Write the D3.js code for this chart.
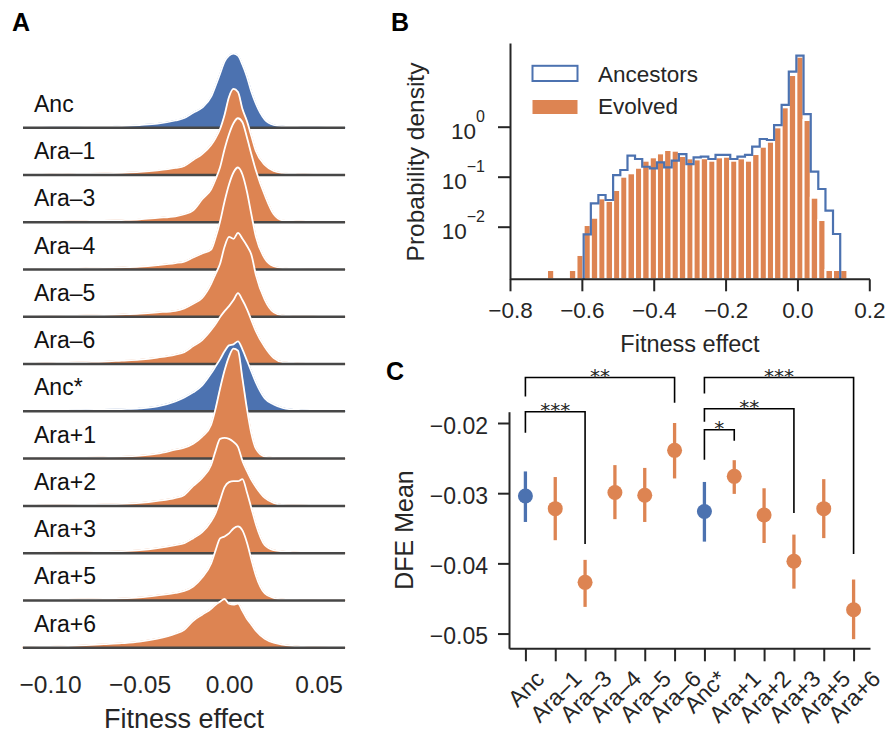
<!DOCTYPE html>
<html>
<head>
<meta charset="utf-8">
<script src="https://cdn.jsdelivr.net/npm/d3@7"></script>
<style>
  body { margin: 0; background: #fff; }
  svg { display: block; }
</style>
</head>
<body>
<svg id="fig" width="886" height="734"></svg>
<script>
// ---- data ----
const lineLabels = ['Anc', 'Ara–1', 'Ara–3', 'Ara–4', 'Ara–5', 'Ara–6',
  'Anc*', 'Ara+1', 'Ara+2', 'Ara+3', 'Ara+5', 'Ara+6'];

// panel A: smoothed DFE density per line, read at these fitness values
const ridgeGrid = [-0.115, -0.10, -0.09, -0.08, -0.07, -0.06, -0.05, -0.04, -0.03, -0.025,
  -0.02, -0.015, -0.01, -0.0075, -0.005, -0.0025, 0, 0.0025, 0.005, 0.0075,
  0.01, 0.0125, 0.015, 0.02, 0.025, 0.03, 0.04, 0.05, 0.065];
const densAnc = [0, 0.3, 0.6, 0.7, 1.0, 1.7, 2.7, 4, 7.2, 9.7, 15, 20, 31, 42, 54, 66, 72, 74, 72, 63, 51, 36, 24, 8, 2.7, 1.4, 0.6, 0.3, 0];
const densAraM1 = [0, 0.5, 0.8, 1.2, 1.6, 2.2, 3, 4.5, 7, 9, 15, 21, 30, 37, 46, 60, 78, 86, 83, 66, 54, 39, 24, 10, 4, 2, 0.8, 0.4, 0];
const densAraM3 = [0, 0.5, 0.8, 1.2, 1.6, 2.2, 3, 4.5, 6, 8, 12, 23, 33, 43, 55, 73, 88, 99, 104, 100, 85, 68, 52, 27, 8, 2, 0.8, 0.4, 0];
const densAraM4 = [0, 0.5, 0.8, 1.2, 1.6, 2.2, 3, 4.5, 6.5, 8, 12, 16, 20, 32, 48, 68, 85, 97, 102, 95, 78, 55, 33, 11, 3.3, 1.5, 0.6, 0.3, 0];
const densAraM5 = [0, 0.6, 1, 1.4, 1.8, 2.5, 3.3, 4.5, 6, 8.5, 13, 19, 33, 43, 53, 70, 80, 78, 84, 78, 71, 62, 42, 17, 4.5, 1.5, 0.6, 0.3, 0];
const densAraM6 = [0, 1, 1.5, 2, 2.5, 3.5, 4.5, 6.5, 9.5, 12, 18, 24, 34, 40, 47, 53, 58, 64, 71, 64, 55, 44, 33, 17, 6, 2, 0.8, 0.4, 0];
const densAncStar = [0, 0.5, 0.8, 1.2, 1.7, 2.3, 3, 5, 10, 14, 19, 26, 38, 45, 52, 60, 66, 67, 70, 62, 51, 40, 29, 13, 7, 3.5, 1.2, 0.5, 0];
const densAraP1 = [0, 0.5, 0.8, 1.1, 1.5, 2, 3, 5, 9, 11, 15, 22, 34, 50, 70, 88, 102, 110, 108, 80, 50, 25, 10, 2, 0.8, 0.4, 0.2, 0.1, 0];
const densAraP2 = [0, 0.5, 0.8, 1.1, 1.5, 2, 3, 5, 8, 11, 20, 28, 41, 55, 67, 68, 67, 64, 59, 45, 35, 26, 19, 8, 3, 1, 0.5, 0.2, 0];
const densAraP3 = [0, 0.5, 0.8, 1.1, 1.5, 2, 3, 5, 8, 10, 15, 21, 32, 40, 53, 66, 71, 72, 72, 74, 61, 45, 29, 8, 3, 1.7, 0.6, 0.3, 0];
const densAraP5 = [0, 0.5, 0.8, 1.1, 1.5, 2, 3, 5, 7.5, 9.5, 14, 23, 37, 50, 62, 64, 67, 72, 74, 70, 58, 41, 25, 7, 2.5, 1, 0.4, 0.2, 0];
const densAraP6 = [0.3, 1, 1.7, 2.5, 3.5, 4.5, 6, 9, 14, 18, 27, 33, 39, 43, 46, 48.7, 44, 43, 44, 37, 29, 23, 17, 9, 5, 3, 1, 0.3, 0];
const ridgeRows = [densAnc, densAraM1, densAraM3, densAraM4, densAraM5, densAraM6,
  densAncStar, densAraP1, densAraP2, densAraP3, densAraP5, densAraP6];
const ridgeTicks = [-0.10, -0.05, 0.00, 0.05];

// panel B: histogram (shared bin edges)
const histEdges = [-0.697, -0.677, -0.656, -0.636, -0.615, -0.595, -0.575, -0.554, -0.534, -0.513,
  -0.493, -0.473, -0.452, -0.432, -0.411, -0.391, -0.371, -0.350, -0.330, -0.309,
  -0.289, -0.269, -0.248, -0.228, -0.207, -0.187, -0.167, -0.146, -0.126, -0.105,
  -0.085, -0.065, -0.044, -0.024, -0.003, 0.017, 0.037, 0.058, 0.078, 0.099, 0.119, 0.139];
const evolvedDensity = [0.00136, 0, 0, 0.00136, 0.00272, 0.0108, 0.0151, 0.0369, 0.0327, 0.0542,
  0.100, 0.117, 0.151, 0.209, 0.244, 0.293, 0.342, 0.331, 0.259, 0.233,
  0.222, 0.234, 0.209, 0.244, 0.251, 0.209, 0.233, 0.209, 0.284, 0.398,
  0.501, 0.97, 2.44, 10.8, 25.1, 1.36, 0.038, 0.0136, 0.00136, 0.00136, 0.00136];
const ancestorDensity = [null, null, null, null, null, 0.00703, 0.0293, 0.0431, 0.0342, 0.108,
  0.136, 0.263, 0.226, 0.158, 0.147, 0.194, 0.154, 0.209, 0.284, 0.179,
  0.243, 0.251, 0.226, 0.272, 0.272, 0.226, 0.251, 0.272, 0.398, 0.568,
  0.542, 1.08, 2.72, 12.6, 26.3, 1.79, 0.126, 0.0568, 0.0209, 0.00714, null];
const histXTicks = [-0.8, -0.6, -0.4, -0.2, 0.0, 0.2];
const histYTicks = [1, 0.1, 0.01];

// panel C: DFE mean with interval
const dfeMean = [-0.0304, -0.0322, -0.0427, -0.0299, -0.0303, -0.0239, -0.0326, -0.0276, -0.0331, -0.0397, -0.0322, -0.0466];
const dfeLow = [-0.0341, -0.0367, -0.0462, -0.0337, -0.0341, -0.0279, -0.0369, -0.0301, -0.0371, -0.0436, -0.0364, -0.0508];
const dfeHigh = [-0.0269, -0.0277, -0.0395, -0.0260, -0.0264, -0.0200, -0.0284, -0.0253, -0.0293, -0.0359, -0.0280, -0.0423];
const dfeTicks = [-0.02, -0.03, -0.04, -0.05];
const sigBrackets = [
  { a: 'Anc', b: 'Ara–6', top: -0.01352, endA: -0.01624, endB: -0.01710, stars: '**' },
  { a: 'Anc', b: 'Ara–3', top: -0.01839, endA: -0.02139, endB: -0.03724, stars: '***' },
  { a: 'Anc*', b: 'Ara+6', top: -0.01352, endA: -0.01581, endB: -0.03867, stars: '***' },
  { a: 'Anc*', b: 'Ara+3', top: -0.01796, endA: -0.01981, endB: -0.03281, stars: '**' },
  { a: 'Anc*', b: 'Ara+1', top: -0.02096, endA: -0.02524, endB: -0.02253, stars: '*' },
];

// ---- style ----
const FONT = '"Liberation Sans", Arial, Helvetica, sans-serif';
const INK = '#262626';
const BLUE = '#4c72b0';
const ORANGE = '#dd8452';
const color = (lab) => (lab.startsWith('Anc') ? BLUE : ORANGE);

const svg = d3.select('#fig').attr('font-family', FONT);
svg.append('rect').attr('width', 886).attr('height', 734).attr('fill', '#fff');

const panelLetter = (t, x, y) => svg.append('text')
  .attr('x', x).attr('y', y)
  .attr('font-size', 25).attr('font-weight', 'bold').attr('fill', '#000')
  .text(t);

// ================= panel A: ridgeline =================
const ridgeX = d3.scaleLinear().domain([-0.1151, 0.0648]).range([23, 345]);
const rowY = d3.scalePoint().domain(lineLabels).range([127.7, 647.7]);
const ridgeH = d3.scaleLinear().domain([0, 100]).range([0, 100]);

const pA = svg.append('g');
lineLabels.forEach((lab, i) => {
  const base = rowY(lab);
  const pts = ridgeGrid.map((x, j) => [x, ridgeRows[i][j]]);
  const area = d3.area()
    .x((d) => ridgeX(d[0]))
    .y0(base)
    .y1((d) => base - ridgeH(d[1]))
    .curve(d3.curveMonotoneX);
  const edge = d3.line()
    .x((d) => ridgeX(d[0]))
    .y((d) => base - ridgeH(d[1]))
    .curve(d3.curveMonotoneX);
  const row = pA.append('g');
  row.append('path')
    .attr('d', area(pts))
    .attr('fill', color(lab))
    .attr('stroke', color(lab))
    .attr('stroke-width', 1.2);
  row.append('path')
    .attr('d', edge(pts))
    .attr('fill', 'none')
    .attr('stroke', '#fff')
    .attr('stroke-width', 1.8);
  row.append('line')
    .attr('x1', ridgeX.range()[0]).attr('x2', ridgeX.range()[1])
    .attr('y1', base).attr('y2', base)
    .attr('stroke', '#474747').attr('stroke-width', 2.5);
  row.append('text')
    .attr('x', 34).attr('y', base - 16)
    .attr('font-size', 23).attr('fill', '#111')
    .text(lab);
});

const gAx = svg.append('g')
  .attr('transform', `translate(0,${rowY.range()[1]})`)
  .call(d3.axisBottom(ridgeX).tickValues(ridgeTicks).tickFormat(d3.format('.2f')).tickSize(0))
  .attr('font-family', FONT).attr('font-size', 24.5).attr('color', INK);
gAx.select('.domain').remove();
gAx.selectAll('.tick text').attr('dy', null).attr('y', 45);

svg.append('text')
  .attr('x', 184).attr('y', 728)
  .attr('text-anchor', 'middle').attr('font-size', 27).attr('fill', INK)
  .text('Fitness effect');

panelLetter('A', 12, 31);

// ================= panel B: histogram =================
const hx = d3.scaleLinear().domain([-0.8, 0.2]).range([510, 869.3]);
const hy = d3.scaleLog().domain([10 ** -3.052, 10 ** 1.674]).range([279.3, 43]);
const floorY = hy.range()[0];

const pB = svg.append('g');
pB.selectAll('rect.bar')
  .data(evolvedDensity.map((v, k) => ({ x0: histEdges[k], x1: histEdges[k + 1], v })).filter((d) => d.v > 0))
  .join('rect')
  .attr('class', 'bar')
  .attr('x', (d) => hx(d.x0))
  .attr('width', (d) => hx(d.x1) - hx(d.x0))
  .attr('y', (d) => hy(d.v))
  .attr('height', (d) => floorY - hy(d.v))
  .attr('fill', ORANGE)
  .attr('stroke', '#fff')
  .attr('stroke-width', 2);

const stepPts = [];
ancestorDensity.forEach((v, k) => {
  if (v == null) return;
  if (!stepPts.length) stepPts.push([histEdges[k], null]);
  stepPts.push([histEdges[k], v], [histEdges[k + 1], v]);
  if (ancestorDensity[k + 1] == null) stepPts.push([histEdges[k + 1], null]);
});
pB.append('path')
  .attr('d', d3.line()
    .x((d) => hx(d[0]))
    .y((d) => (d[1] == null ? floorY : hy(d[1])))(stepPts))
  .attr('fill', 'none')
  .attr('stroke', BLUE)
  .attr('stroke-width', 2.2);

const gBx = svg.append('g')
  .attr('transform', `translate(0,${floorY})`)
  .call(d3.axisBottom(hx).tickValues(histXTicks).tickFormat(d3.format('.1f')).tickSize(12).tickSizeOuter(0))
  .attr('font-family', FONT).attr('font-size', 22.5).attr('color', INK);
gBx.select('.domain').attr('stroke-width', 2).attr('d', `M${hx.range()[0]},0H870`);
gBx.selectAll('.tick line').attr('stroke-width', 2);
gBx.selectAll('.tick text').attr('dy', null).attr('y', 38.7);

const gBy = svg.append('g')
  .attr('transform', `translate(${hx.range()[0]},0)`)
  .call(d3.axisLeft(hy).tickValues(histYTicks).tickSize(12).tickSizeOuter(0))
  .attr('font-family', FONT).attr('font-size', 22.5).attr('color', INK);
gBy.select('.domain').attr('stroke-width', 2);
gBy.selectAll('.tick line').attr('stroke-width', 2);
gBy.selectAll('.tick text').each(function (d) {
  const t = d3.select(this).text('').attr('x', -25).attr('dy', null).attr('y', 12).attr('text-anchor', 'end');
  const p = Math.round(Math.log10(d));
  t.append('tspan').text('10');
  t.append('tspan').attr('dy', -17).attr('font-size', 16).text(p < 0 ? `−${-p}` : `${p}`);
});

svg.append('text')
  .attr('transform', 'translate(423.5,162) rotate(-90)')
  .attr('text-anchor', 'middle').attr('font-size', 24.5).attr('fill', INK)
  .text('Probability density');
svg.append('text')
  .attr('x', 690).attr('y', 351.5)
  .attr('text-anchor', 'middle').attr('font-size', 23.5).attr('fill', INK)
  .text('Fitness effect');

// legend
const legend = svg.append('g').attr('font-size', 22.5).attr('fill', INK);
legend.append('rect').attr('x', 532.5).attr('y', 65.8).attr('width', 45).attr('height', 15.2)
  .attr('fill', '#fff').attr('stroke', BLUE).attr('stroke-width', 2);
legend.append('text').attr('x', 598).attr('y', 81.7).text('Ancestors');
legend.append('rect').attr('x', 532.5).attr('y', 100).attr('width', 45).attr('height', 14)
  .attr('fill', ORANGE);
legend.append('text').attr('x', 598).attr('y', 114).text('Evolved');

panelLetter('B', 391, 31);

// ================= panel C: DFE mean =================
const cx = d3.scalePoint().domain(lineLabels).range([509, 870]).padding(0.55);
const cy = d3.scaleLinear().domain([-0.0521, -0.01839]).range([648.3, 411.7]);

const gCy = svg.append('g')
  .attr('transform', `translate(${cx.range()[0]},0)`)
  .call(d3.axisLeft(cy).tickValues(dfeTicks).tickFormat(d3.format('.2f')).tickSize(11).tickSizeOuter(0).tickPadding(10))
  .attr('font-family', FONT).attr('font-size', 23).attr('color', INK);
gCy.select('.domain').attr('stroke-width', 2);
gCy.selectAll('.tick line').attr('stroke-width', 2);
gCy.selectAll('.tick text').attr('dy', 10);

const gCx = svg.append('g')
  .attr('transform', `translate(0,${cy.range()[0]})`)
  .call(d3.axisBottom(cx).tickSize(13).tickSizeOuter(0))
  .attr('font-family', FONT).attr('font-size', 23).attr('color', INK);
gCx.select('.domain').attr('stroke-width', 2);
gCx.selectAll('.tick line').attr('stroke-width', 2);
gCx.selectAll('.tick text').each(function () {
  const t = d3.select(this).attr('y', null).attr('dy', null)
    .attr('text-anchor', 'middle').attr('dominant-baseline', 'central');
  const w = this.getComputedTextLength();
  const off = (w + 15) / (2 * Math.SQRT2);
  t.attr('transform', `translate(0,${21 + off}) rotate(-45)`);
});

svg.append('text')
  .attr('transform', 'translate(413,530) rotate(-90)')
  .attr('text-anchor', 'middle').attr('font-size', 25).attr('fill', INK)
  .text('DFE Mean');

const pC = svg.append('g');
lineLabels.forEach((lab, i) => {
  pC.append('line')
    .attr('x1', cx(lab)).attr('x2', cx(lab))
    .attr('y1', cy(dfeLow[i])).attr('y2', cy(dfeHigh[i]))
    .attr('stroke', color(lab)).attr('stroke-width', 3.3);
  pC.append('circle')
    .attr('cx', cx(lab)).attr('cy', cy(dfeMean[i])).attr('r', 7.5)
    .attr('fill', color(lab));
});

const pSig = svg.append('g');
sigBrackets.forEach((s) => {
  const xa = cx(s.a);
  const xb = cx(s.b);
  pSig.append('path')
    .attr('d', `M${xa},${cy(s.endA)}V${cy(s.top)}H${xb}V${cy(s.endB)}`)
    .attr('fill', 'none').attr('stroke', '#000').attr('stroke-width', 1.6);
  pSig.append('text')
    .attr('x', (xa + xb) / 2).attr('y', cy(s.top) + 5)
    .attr('text-anchor', 'middle')
    .attr('font-family', '"DejaVu Sans", sans-serif').attr('font-size', 20).attr('fill', INK)
    .text(s.stars);
});

panelLetter('C', 386, 380);
</script>
</body>
</html>
